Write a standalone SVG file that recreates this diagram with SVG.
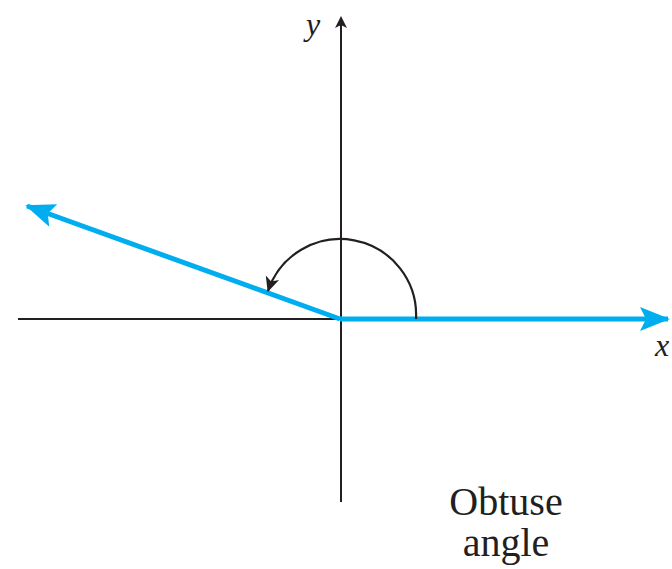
<svg xmlns="http://www.w3.org/2000/svg" width="672" height="569" viewBox="0 0 672 569">
<style>
.axis{stroke:#231f20;stroke-width:2;fill:none}
.ray{stroke:#00aeef;stroke-width:5;fill:none;stroke-linecap:butt}
.arc{stroke:#231f20;stroke-width:2.2;fill:none}
.lbl{font-family:"Liberation Serif",serif;fill:#231f20}
</style>
<defs>
<marker id="blk" markerWidth="12" markerHeight="12" refX="10" refY="6" orient="auto" markerUnits="userSpaceOnUse"><path d="M0,0 L12,6 L0,12 L3,6 Z" fill="#231f20"/></marker>
<marker id="blu" markerWidth="30" markerHeight="24" refX="28" refY="12" orient="auto" markerUnits="userSpaceOnUse"><path d="M0,0 L30,12 L0,24 L6,12 Z" fill="#00aeef"/></marker>
<marker id="arcm" markerWidth="16" markerHeight="16" refX="14" refY="8" orient="auto" markerUnits="userSpaceOnUse"><path d="M0,1 L15,8 L0,15 L4,8 Z" fill="#231f20"/></marker>
</defs>
<g id="connectors">
<line class="axis" x1="18" y1="319" x2="340" y2="319"/>
<line class="axis" x1="341" y1="502" x2="341" y2="18" marker-end="url(#blk)"/>
<line class="ray" x1="340" y1="319" x2="668" y2="319" marker-end="url(#blu)"/>
<line class="ray" x1="340" y1="319" x2="27" y2="206" marker-end="url(#blu)"/>
<path class="arc" d="M416,319 A76,76 0 0 0 268,291" marker-end="url(#arcm)"/>
</g>
<g id="labels">
<text class="lbl" x="306" y="35" font-size="32" font-style="italic">y</text>
<text class="lbl" x="655" y="356" font-size="32" font-style="italic">x</text>
<text class="lbl" x="506" y="515" font-size="40" text-anchor="middle">Obtuse</text>
<text class="lbl" x="506" y="556" font-size="40" text-anchor="middle">angle</text>
</g>
</svg>
